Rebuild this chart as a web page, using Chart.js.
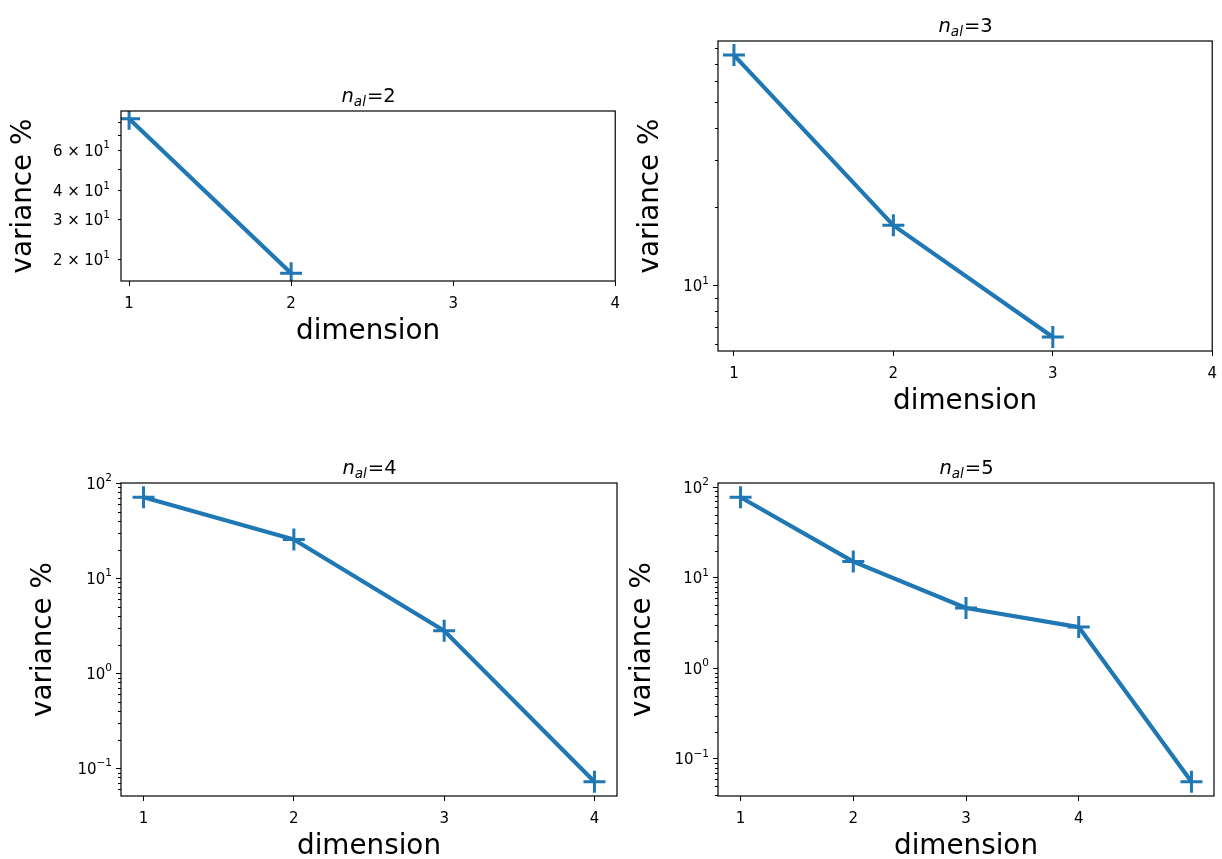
<!DOCTYPE html>
<html>
<head>
<meta charset="utf-8">
<title>variance per dimension</title>
<script src="https://cdn.jsdelivr.net/npm/chart.js@4.4.1/dist/chart.umd.min.js"></script>
<style>
  body { margin: 0; background: #fff; }
  #figure { position: relative; width: 1222px; height: 859px; overflow: hidden; background: #fff; }
  #figure canvas { position: absolute; }
</style>
</head>
<body>
<div id="figure"></div>
<script>
// variance % explained by each dimension, one panel per n_al
const nal = [2, 3, 4, 5];
const dims = [1, 2, 3, 4, 5];
const variance2 = [82.5, 17.5];
const variance3 = [75.5, 17.0, 6.4];
const variance4 = [71.0, 25.5, 2.8, 0.072];
const variance5 = [77.6, 15.1, 4.64, 2.86, 0.056];
const xTicks = [1, 2, 3, 4];
// labelled y ticks for each panel
const yTicks2 = [20, 30, 40, 60];
const yTicks3 = [10];
const yTicks4 = [0.1, 1, 10, 100];
const yTicks5 = [0.1, 1, 10, 100];

// axes boxes in page pixels, x of the y-label baseline, gap before y tick text
const boxes = [
  { left: 121, top: 111, right: 617, bottom: 281, ylab: 33, labGap: 11 },
  { left: 718, top: 41, right: 1214, bottom: 351, ylab: 660, labGap: 9 },
  { left: 121, top: 483, right: 617, bottom: 796, ylab: 53, labGap: 9 },
  { left: 718, top: 483, right: 1214, bottom: 796, ylab: 652, labGap: 9 }
];

const BLUE = "#1f77b4";
const FONT = "'DejaVu Sans'";
const TICK_PX = 15, LABEL_PX = 27.8, TITLE_PX = 19.5;
const TOP_PAD = 40, XAXIS_H = 67, RIGHT_PAD = 12;

Chart.defaults.font.family = FONT;
Chart.defaults.color = "#000";

// y tick text drawn as 10^k or m × 10^k with a raised exponent
function drawLogLabel(ctx, v, xRight, y) {
  const e = Math.floor(Math.log10(v) + 1e-9);
  const m = Math.round(v / Math.pow(10, e));
  const expo = String(e).replace("-", "\u2212");
  const big = TICK_PX + "px " + FONT;
  const small = (TICK_PX * 0.7).toFixed(1) + "px " + FONT;
  const gap = 0.3 * TICK_PX;
  ctx.font = big;
  const wTen = ctx.measureText("10").width;
  const wM = m === 1 ? 0 : ctx.measureText(String(m)).width;
  const wX = m === 1 ? 0 : ctx.measureText("×").width;
  ctx.font = small;
  const we = ctx.measureText(expo).width;
  const total = (m === 1 ? 0 : wM + gap + wX + gap) + wTen + we;
  let x = xRight - total;
  const baseline = y + 0.365 * TICK_PX;
  ctx.font = big;
  if (m !== 1) {
    ctx.fillText(String(m), x, baseline); x += wM + gap;
    ctx.fillText("×", x, baseline); x += wX + gap;
  }
  ctx.fillText("10", x, baseline); x += wTen;
  ctx.font = small;
  ctx.fillText(expo, x, baseline - 0.5 * TICK_PX);
}

function logLimits(vals) {
  const lo = Math.log10(Math.min(...vals)), hi = Math.log10(Math.max(...vals));
  const pad = 0.05 * (hi - lo);
  return { min: Math.pow(10, lo - pad), max: Math.pow(10, hi + pad) };
}

function makePanel(k, values, yTicks, box) {
  const n = values.length;
  const canvasLeft = Math.round(box.ylab - 9.6 - LABEL_PX * 0.6);
  const yAxisW = box.left - canvasLeft;
  const width = box.right - canvasLeft + RIGHT_PAD;
  const height = box.bottom - box.top + TOP_PAD + XAXIS_H;

  const canvas = document.createElement("canvas");
  canvas.width = width;
  canvas.height = height;
  canvas.style.left = canvasLeft + "px";
  canvas.style.top = (box.top - TOP_PAD) + "px";
  canvas.style.width = width + "px";
  canvas.style.height = height + "px";
  document.getElementById("figure").appendChild(canvas);

  const ylim = logLimits(values);
  const xMin = dims[0] - 0.05 * (n - 1);
  const xMax = Math.max(xTicks[xTicks.length - 1], dims[n - 1] + 0.05 * (n - 1));

  // spines, y tick text, minor log ticks and the n_al title
  const decorations = {
    id: "decorations",
    afterDraw(chart) {
      const ctx = chart.ctx;
      const a = chart.chartArea;
      const ys = chart.scales.y;
      ctx.save();

      ctx.strokeStyle = "#000";
      ctx.lineWidth = 1;
      for (let e = -3; e <= 3; e++) {
        for (let m = 1; m <= 9; m++) {
          const v = m * Math.pow(10, e);
          if (v < ys.min || v > ys.max) continue;
          if (yTicks.some(t => Math.abs(t - v) / v < 1e-6)) continue;
          const y = Math.round(ys.getPixelForValue(v)) + 0.5;
          ctx.beginPath();
          ctx.moveTo(a.left - 3, y);
          ctx.lineTo(a.left, y);
          ctx.stroke();
        }
      }

      ctx.lineWidth = 1.2;
      ctx.strokeRect(a.left, a.top, a.right - a.left, a.bottom - a.top);

      ctx.fillStyle = "#000";
      ctx.textBaseline = "alphabetic";
      ctx.textAlign = "left";
      yTicks.forEach(v => drawLogLabel(ctx, v, a.left - box.labGap, ys.getPixelForValue(v)));

      const cx = (a.left + a.right) / 2;
      const base = a.top - 9;
      const fBig = "italic " + TITLE_PX + "px " + FONT;
      const fSub = "italic " + (TITLE_PX * 0.7).toFixed(1) + "px " + FONT;
      const fReg = TITLE_PX + "px " + FONT;
      const rest = "=" + nal[k];
      ctx.font = fBig; const wn = ctx.measureText("n").width;
      ctx.font = fSub; const wal = ctx.measureText("al").width;
      ctx.font = fReg; const wr = ctx.measureText(rest).width;
      let x = cx - (wn + wal + wr) / 2;
      ctx.font = fBig; ctx.fillText("n", x, base); x += wn;
      ctx.font = fSub; ctx.fillText("al", x, base + 3.8); x += wal + 1;
      ctx.font = fReg; ctx.fillText(rest, x, base);
      ctx.restore();
    }
  };

  new Chart(canvas.getContext("2d"), {
    type: "line",
    data: {
      datasets: [{
        data: values.map((v, i) => ({ x: dims[i], y: v })),
        borderColor: BLUE,
        borderWidth: 4.2,
        borderJoinStyle: "round",
        tension: 0,
        clip: 0,
        pointStyle: "cross",
        pointRadius: 11,
        pointHoverRadius: 11,
        pointBorderWidth: 3,
        pointBorderColor: BLUE,
        pointBackgroundColor: BLUE
      }]
    },
    options: {
      responsive: false,
      animation: false,
      devicePixelRatio: 1,
      events: [],
      layout: { autoPadding: false, padding: { top: TOP_PAD, right: RIGHT_PAD, left: 0, bottom: 0 } },
      plugins: { legend: { display: false }, tooltip: { enabled: false }, title: { display: false } },
      scales: {
        x: {
          type: "linear",
          min: xMin,
          max: xMax,
          afterBuildTicks: s => { s.ticks = xTicks.map(v => ({ value: v })); },
          afterFit: s => { s.height = XAXIS_H; },
          grid: { display: true, drawOnChartArea: false, drawTicks: true, tickLength: 5, tickColor: "#000", tickWidth: 1 },
          border: { display: false },
          ticks: { autoSkip: false, maxRotation: 0, minRotation: 0, padding: 9, font: { size: TICK_PX }, color: "#000", callback: v => String(v) },
          title: { display: true, text: "dimension", font: { size: LABEL_PX, lineHeight: 1.2 }, color: "#000", padding: 0 }
        },
        y: {
          type: "logarithmic",
          min: ylim.min,
          max: ylim.max,
          afterBuildTicks: s => { s.ticks = yTicks.map(v => ({ value: v })); },
          afterFit: s => { s.width = yAxisW; },
          grid: { display: true, drawOnChartArea: false, drawTicks: true, tickLength: k === 0 ? 3 : 5, tickColor: "#000", tickWidth: 1 },
          border: { display: false },
          ticks: { display: false, autoSkip: false },
          title: { display: true, text: "variance %", font: { size: LABEL_PX, lineHeight: 1.2 }, color: "#000", padding: 0 }
        }
      }
    },
    plugins: [decorations]
  });
}

makePanel(0, variance2, yTicks2, boxes[0]);
makePanel(1, variance3, yTicks3, boxes[1]);
makePanel(2, variance4, yTicks4, boxes[2]);
makePanel(3, variance5, yTicks5, boxes[3]);
</script>
</body>
</html>
